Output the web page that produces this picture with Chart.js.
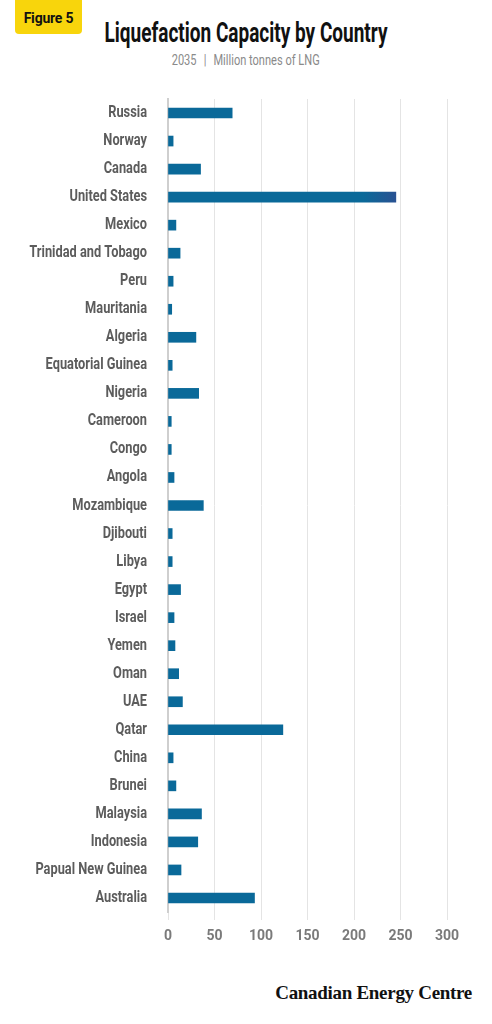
<!DOCTYPE html>
<html>
<head>
<meta charset="utf-8">
<script src="https://cdn.jsdelivr.net/npm/chart.js@4"></script>
<style>
  html, body { margin: 0; padding: 0; background: #fff; }
  body { width: 492px; height: 1024px; position: relative; overflow: hidden; }
  .badge {
    position: absolute; left: 15px; top: -6px; width: 67px; height: 40px;
    background: #f8d50c; border-radius: 4px;
    font-family: Roboto, "Noto Sans", sans-serif; font-weight: 700; font-size: 14px;
    color: #111; text-align: center; line-height: 48px; letter-spacing: -0.2px;
  }
  .line { position: absolute; left: 0; width: 492px; text-align: center; white-space: nowrap; }
  .line span.fit { display: inline-block; transform-origin: 50% 50%; }
  .title { top: 17px; font-family: Roboto, sans-serif; font-weight: 700; font-size: 27px; color: #111; }
  .sub { top: 52px; font-family: Roboto, sans-serif; font-size: 14px; color: #8a8a8a; }
  .sub i { font-style: normal; margin: 0 9px; }
  #wrap { position: absolute; left: 0; top: 0; width: 492px; height: 946px; }
  .footer {
    position: absolute; right: 20px; top: 982px;
    font-family: "Liberation Serif", "DejaVu Serif", serif; font-weight: 700;
    font-size: 19px; color: #111; letter-spacing: -0.3px;
  }
</style>
</head>
<body>
<div class="badge">Figure 5</div>
<div class="line title"><span class="fit" data-w="283">Liquefaction Capacity by Country</span></div>
<div class="line sub"><span class="fit" data-w="148">2035<i>|</i>Million tonnes of LNG</span></div>
<div id="wrap"><canvas id="myChart"></canvas></div>
<div class="footer">Canadian Energy Centre</div>
<script>
let countries = ['Russia', 'Norway', 'Canada', 'United States', 'Mexico', 'Trinidad and Tobago', 'Peru',
    'Mauritania', 'Algeria', 'Equatorial Guinea', 'Nigeria', 'Cameroon', 'Congo', 'Angola', 'Mozambique',
    'Djibouti', 'Libya', 'Egypt', 'Israel', 'Yemen', 'Oman', 'UAE', 'Qatar', 'China', 'Brunei',
    'Malaysia', 'Indonesia', 'Papual New Guinea', 'Australia'];
let capacity = [69, 5.5, 35, 245, 8.5, 13, 5.5,
    4, 30, 4.5, 33, 3.5, 3.5, 6.5, 38,
    4.5, 4.5, 13.5, 6.5, 7.5, 11.5, 15.5, 123.5, 5.5, 8.5,
    36, 32, 14, 93];
let xTicks = [0, 50, 100, 150, 200, 250, 300];

// squeeze the headline text to the condensed width of the original
document.querySelectorAll('.fit').forEach(function (el) {
    let w = el.getBoundingClientRect().width;
    el.style.transform = 'scaleX(' + (parseFloat(el.dataset.w) / w) + ')';
});

// no condensed face installed, so the country labels get squeezed horizontally
let condenseY = {
    id: 'condenseY',
    beforeDraw(chart) {
        let s = chart.scales.y;
        if (s._condensed) return;
        let orig = s.drawLabels;
        s.drawLabels = function (area) {
            let c = this.ctx;
            let ax = this.right - this.options.ticks.padding;
            c.save();
            c.translate(ax, 0);
            c.scale(0.8, 1);
            c.translate(-ax, 0);
            orig.call(this, area);
            c.restore();
        };
        s._condensed = true;
    }
};

let ctx = document.getElementById('myChart');
if (ctx !== null) {
    new Chart(ctx, {
        type: 'bar',
        data: {
            labels: countries,
            datasets: [{
                data: capacity,
                backgroundColor: function (c) {
                    let area = c.chart.chartArea;
                    if (!area) return '#0a6999';
                    let g = c.chart.ctx.createLinearGradient(area.left, 0, area.right, 0);
                    g.addColorStop(0, '#0a6999');
                    g.addColorStop(0.7, '#0a6999');
                    g.addColorStop(0.82, '#2a5192');
                    g.addColorStop(1, '#2a5192');
                    return g;
                },
                barThickness: 10,
                borderWidth: 0
            }]
        },
        plugins: [condenseY],
        options: {
            indexAxis: 'y',
            responsive: true,
            maintainAspectRatio: false,
            animation: false,
            layout: { padding: { top: 99, right: 45, left: 0, bottom: 0 } },
            plugins: { legend: { display: false }, tooltip: { enabled: false } },
            scales: {
                x: {
                    min: 0,
                    max: 300,
                    afterBuildTicks: function (s) { s.ticks = xTicks.map(v => ({ value: v })); },
                    afterFit: function (s) { s.height = 34; },
                    grid: { color: '#e4e4e4', lineWidth: 1, drawTicks: true, tickLength: 8 },
                    border: { display: false },
                    ticks: {
                        padding: 8,
                        color: '#7a7a7a',
                        font: { family: 'Roboto', size: 14, weight: 'bold' }
                    }
                },
                y: {
                    afterFit: function (s) { s.width = 168; },
                    grid: { display: false, drawTicks: false },
                    border: { display: true, color: '#cfcfcf', width: 2 },
                    ticks: {
                        autoSkip: false,
                        padding: 21,
                        color: '#5c5c5c',
                        font: { family: 'Roboto', size: 16, weight: 'bold' }
                    }
                }
            }
        }
    });
}
</script>
</body>
</html>
